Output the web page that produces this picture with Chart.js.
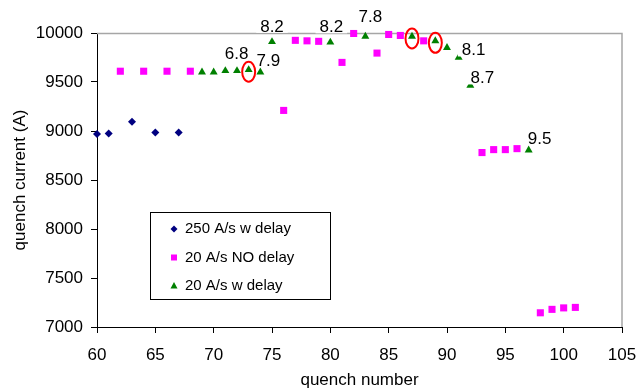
<!DOCTYPE html>
<html>
<head>
<meta charset="utf-8">
<script src="https://cdn.jsdelivr.net/npm/chart.js@4.4.0/dist/chart.umd.min.js"></script>
<style>
  html, body { margin: 0; padding: 0; background: #fff; }
</style>
</head>
<body>
<canvas id="chart" width="638" height="391"></canvas>
<script>
// quench number / current for each ramp mode
let q250 = [60, 61, 63, 65, 67];
let i250 = [8970, 8975, 9095, 8985, 8985];

let qNoDelay = [62, 64, 66, 68, 76, 77, 78, 79, 81, 82, 84, 85, 86, 88, 93, 94, 95, 96, 98, 99, 100, 101];
let iNoDelay = [9610, 9610, 9610, 9610, 9210, 9925, 9920, 9915, 9700, 9995, 9795, 9985, 9975, 9920, 8780, 8810, 8810, 8820, 7145, 7180, 7195, 7200];

let qDelay = [69, 70, 71, 72, 73, 74, 75, 80, 83, 87, 89, 90, 91, 92, 97];
let iDelay = [9600, 9600, 9615, 9615, 9625, 9600, 9910, 9905, 9965, 9965, 9920, 9850, 9750, 9465, 8805];

// numbers written next to some of the 20 A/s w delay points
let noteQ = [73, 74, 75, 80, 83, 91, 92, 97];
let noteText = ['6.8', '7.9', '8.2', '8.2', '7.8', '8.1', '8.7', '9.5'];

// points with a red ring
let circledQ = [73, 87, 89];

let xTicks = [60, 65, 70, 75, 80, 85, 90, 95, 100, 105];
let yTicks = [7000, 7500, 8000, 8500, 9000, 9500, 10000];

const FONT = "'Liberation Sans', Arial, sans-serif";

function pts(xs, ys) {
  return xs.map((x, i) => ({ x: x, y: ys[i] }));
}

let series = [
  { label: '250 A/s w delay', data: pts(q250, i250), style: 'rectRot', color: '#000080', radius: 4 },
  { label: '20 A/s NO delay', data: pts(qNoDelay, iNoDelay), style: 'rect', color: '#ff00ff', radius: 5 },
  { label: '20 A/s w delay', data: pts(qDelay, iDelay), style: 'triangle', color: '#008000', radius: 4.6 }
];

// label offsets from their point (px)
let noteOffset = [[-12, -15], [8, -11], [0, -15], [1, -15], [5, -19], [15, -7], [12, -7], [11, -11]];

const extras = {
  id: 'extras',
  beforeDatasetsDraw(chart) {
    const { ctx, chartArea: a } = chart;
    ctx.save();
    ctx.strokeStyle = '#a6a6a6';
    ctx.lineWidth = 1.5;
    ctx.beginPath();
    ctx.moveTo(a.left, a.top + 0.5);
    ctx.lineTo(a.right, a.top + 0.5);
    ctx.lineTo(a.right, a.bottom);
    ctx.stroke();
    ctx.restore();
  },
  afterDatasetsDraw(chart) {
    const { ctx } = chart;
    const xs = chart.scales.x, ys = chart.scales.y;
    ctx.save();

    // notes
    ctx.font = '17px ' + FONT;
    ctx.textAlign = 'center';
    ctx.textBaseline = 'middle';
    noteQ.forEach((q, i) => {
      let v = iDelay[qDelay.indexOf(q)];
      let px = xs.getPixelForValue(q) + noteOffset[i][0];
      let py = ys.getPixelForValue(v) + noteOffset[i][1];
      let w = ctx.measureText(noteText[i]).width;
      ctx.fillStyle = '#fff';
      ctx.fillRect(px - w / 2 - 4, py - 6, w + 8, 12);
      ctx.fillStyle = '#000';
      ctx.fillText(noteText[i], px, py);
    });

    // red rings
    ctx.strokeStyle = '#ff0000';
    ctx.lineWidth = 2;
    circledQ.forEach(q => {
      let v = iDelay[qDelay.indexOf(q)];
      let px = xs.getPixelForValue(q);
      let py = ys.getPixelForValue(v);
      ctx.beginPath();
      ctx.ellipse(px, py + 2, 6.5, 10, 0, 0, Math.PI * 2);
      ctx.stroke();
    });

    // legend box
    let lx = 150, ly = 212, lw = 180, lh = 87;
    ctx.fillStyle = '#fff';
    ctx.fillRect(lx, ly, lw, lh);
    ctx.strokeStyle = '#000';
    ctx.lineWidth = 1;
    ctx.strokeRect(lx + 0.5, ly + 0.5, lw, lh);
    ctx.font = '15px ' + FONT;
    ctx.textAlign = 'left';
    series.forEach((s, i) => {
      let cy = ly + 17 + i * 28.5;
      let cx = lx + 24;
      ctx.fillStyle = s.color;
      ctx.beginPath();
      if (s.style === 'rectRot') {
        ctx.moveTo(cx, cy - 3.5); ctx.lineTo(cx + 3.5, cy); ctx.lineTo(cx, cy + 3.5); ctx.lineTo(cx - 3.5, cy);
      } else if (s.style === 'rect') {
        ctx.rect(cx - 3, cy - 3, 6, 6);
      } else {
        ctx.moveTo(cx, cy - 4); ctx.lineTo(cx + 3.5, cy + 2.5); ctx.lineTo(cx - 3.5, cy + 2.5);
      }
      ctx.closePath();
      ctx.fill();
      ctx.fillStyle = '#000';
      ctx.fillText(s.label, lx + 35, cy);
    });
    ctx.restore();
  }
};

let myChart = new Chart(document.getElementById('chart'), {
  type: 'scatter',
  data: {
    datasets: series.map(s => ({
      label: s.label,
      data: s.data,
      pointStyle: s.style,
      pointRadius: s.radius,
      pointHoverRadius: s.radius,
      backgroundColor: s.color,
      borderColor: s.color,
      borderWidth: 0,
      clip: false
    }))
  },
  options: {
    responsive: false,
    animation: false,
    devicePixelRatio: 1,
    layout: { padding: { top: 33, right: 16, left: 0, bottom: 0 } },
    plugins: { legend: { display: false }, tooltip: { enabled: false } },
    scales: {
      x: {
        type: 'linear',
        min: 60, max: 105,
        afterBuildTicks: s => { s.ticks = xTicks.map(v => ({ value: v })); },
        afterFit: s => { s.height = 64; s.paddingLeft = 0; s.paddingRight = 0; },
        ticks: { color: '#000', font: { size: 17, family: FONT }, padding: 12, maxRotation: 0, callback: v => String(v) },
        grid: { drawOnChartArea: false, tickLength: 6, tickColor: '#000' },
        border: { color: '#000', width: 1 },
        title: { display: true, text: 'quench number', color: '#000', font: { size: 17, family: FONT }, padding: { top: -4, bottom: 0 } }
      },
      y: {
        min: 7000, max: 10000,
        afterBuildTicks: s => { s.ticks = yTicks.map(v => ({ value: v })); },
        afterFit: s => { s.width = 97; s.paddingTop = 0; s.paddingBottom = 0; },
        ticks: { color: '#000', font: { size: 17, family: FONT }, padding: 8, callback: v => String(v) },
        grid: { drawOnChartArea: false, tickLength: 6, tickColor: '#000' },
        border: { color: '#000', width: 1 },
        title: { display: true, text: 'quench current (A)', color: '#000', font: { size: 17, family: FONT }, padding: { top: 10, bottom: 0 } }
      }
    }
  },
  plugins: [extras]
});
</script>
</body>
</html>
